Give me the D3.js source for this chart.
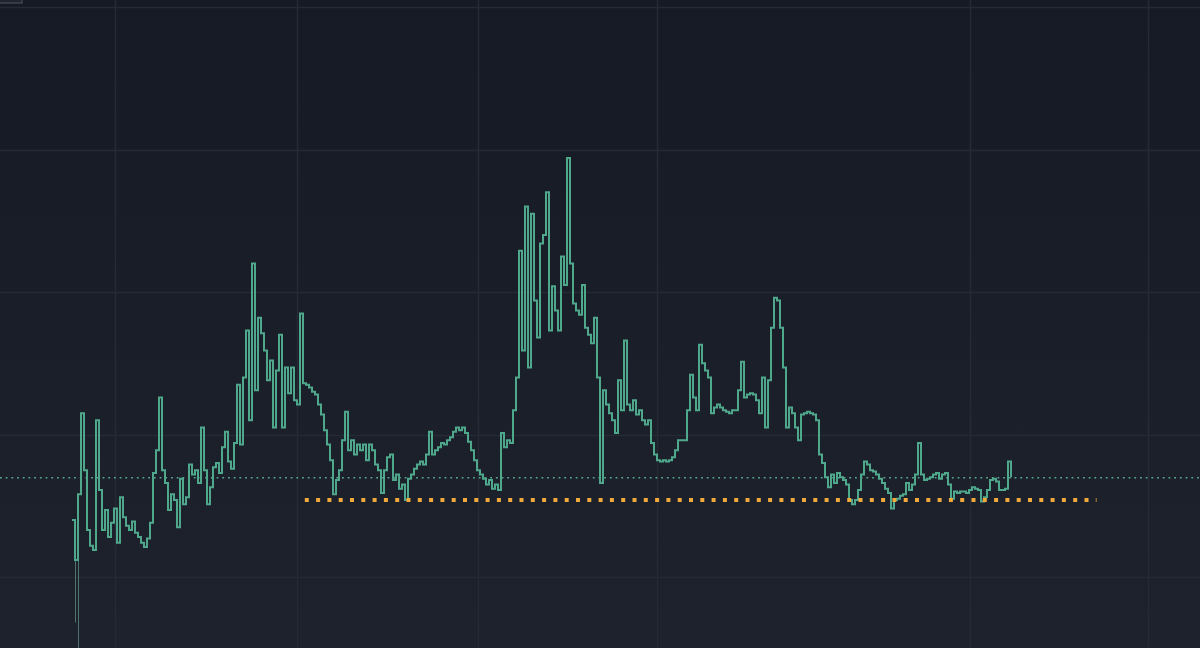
<!DOCTYPE html>
<html>
<head>
<meta charset="utf-8">
<script src="https://cdn.jsdelivr.net/npm/d3@7/dist/d3.min.js"></script>
<style>
html,body{margin:0;padding:0;background:#171b26;overflow:hidden;}
svg{display:block;}
</style>
</head>
<body>
<svg id="chart" width="1200" height="648"></svg>
<script>
// ---- data ----
const prices = [
14.0,11.2,15.8,21.5,17.5,13.3,12.2,11.9,21.0,16.1,
13.3,14.7,12.8,13.8,14.8,12.4,15.6,14.2,13.6,13.3,
13.9,13.1,12.8,12.4,12.1,12.7,13.8,17.3,18.9,22.6,
17.5,16.6,14.7,15.8,15.4,13.5,16.9,15.1,15.6,17.9,
17.2,17.5,16.6,20.5,17.5,15.1,16.3,17.7,18.0,17.3,
19.1,20.2,18.1,17.6,19.4,23.5,19.3,24.0,27.3,21.0,
32.0,23.1,28.2,27.1,25.9,23.8,25.2,20.5,24.5,27.0,
20.5,24.7,22.9,24.7,22.4,22.1,28.5,23.6,23.5,23.3,
23.0,22.8,22.1,21.4,20.3,19.3,18.2,15.8,16.8,17.5,
19.6,21.6,18.9,19.6,18.6,19.3,18.9,19.3,18.2,19.3,
18.9,17.9,17.5,15.9,17.5,18.4,18.6,16.8,17.2,16.2,
16.5,15.4,16.9,17.2,17.6,17.9,18.1,17.9,18.6,20.2,
18.6,18.9,19.1,19.4,19.3,19.6,19.8,20.2,20.5,20.3,
20.5,20.1,19.5,18.9,18.2,17.5,17.2,16.9,16.5,16.8,
16.2,16.5,16.1,20.1,19.1,19.6,19.4,21.7,24.0,32.9,
25.9,36.0,24.7,35.5,29.4,26.8,33.4,34.0,37.0,27.3,
30.4,28.7,27.3,32.5,30.5,39.4,32.0,29.2,28.7,28.4,
30.5,27.5,27.0,26.4,28.2,24.0,16.6,23.1,22.1,21.5,
21.0,20.1,23.8,21.7,26.6,22.1,21.7,22.4,21.4,21.7,
21.0,20.7,21.0,19.4,18.6,18.2,18.1,18.2,18.1,18.2,
18.4,18.9,19.6,19.6,19.6,21.7,24.2,22.6,21.7,26.3,
25.0,24.5,24.0,21.5,21.9,22.1,21.9,21.7,21.6,21.5,
21.7,21.7,23.1,25.1,22.6,22.8,22.9,22.8,22.4,21.5,
24.0,20.5,23.8,27.5,29.6,29.4,27.5,24.7,20.5,21.9,
21.5,20.5,19.6,21.4,21.5,21.6,21.5,21.4,21.0,18.6,
18.0,17.0,16.3,17.2,16.6,17.3,17.0,16.8,16.5,15.4,
15.1,15.4,16.1,17.2,18.1,17.9,17.5,17.4,17.2,16.9,
16.6,16.2,15.9,14.8,15.4,15.5,15.7,15.8,16.6,16.1,
16.5,17.2,19.4,17.2,16.8,16.9,17.0,17.2,17.3,16.9,
17.2,17.3,16.5,15.5,16.0,15.9,16.0,16.0,15.9,16.1,
16.3,16.2,16.1,15.3,15.6,16.1,16.8,16.9,16.7,16.1,
16.1,16.2,18.1,17.0
];
// early thin low prints (bar index, low value)
const earlyLowIdx = [1, 2];
const earlyLows = [6.8, 5.0];
// horizontal price grid levels
const priceTicks = [10, 20, 30, 40, 50];
// time grid positions (bar index)
const timeTicks = [14.33, 75, 135.33, 195, 299.33, 358.67];
// support level (orange dotted)
const supportLevel = 15.4;
const supportFrom = 77.6;
const supportTo = 341.5;

// ---- chart ----
const W = 1200, H = 648;
const svg = d3.select("#chart");
const defs = svg.append("defs");
const grad = defs.append("linearGradient").attr("id","bg").attr("x1",0).attr("y1",0).attr("x2",0).attr("y2",1);
grad.append("stop").attr("offset","0%").attr("stop-color","#161a25");
grad.append("stop").attr("offset","100%").attr("stop-color","#1e222d");
svg.append("rect").attr("width",W).attr("height",H).attr("fill","url(#bg)");

const x = d3.scaleLinear().domain([0, prices.length - 1]).range([72, 1011]);
const y = d3.scaleLinear().domain([10, 50]).range([577, 7]);

// grid
const grid = svg.append("g");
grid.selectAll("line.h").data(priceTicks).join("line")
  .attr("x1",0).attr("x2",W)
  .attr("y1",d=>Math.round(y(d))+0.5).attr("y2",d=>Math.round(y(d))+0.5)
  .attr("stroke","#262a35").attr("stroke-width",1.5);
grid.selectAll("line.v").data(timeTicks).join("line")
  .attr("y1",0).attr("y2",H)
  .attr("x1",d=>Math.round(x(d))+0.5).attr("x2",d=>Math.round(x(d))+0.5)
  .attr("stroke","#262a35").attr("stroke-width",1.5);

// small widget edge top-left
svg.append("rect").attr("x",-2).attr("y",-4).attr("width",24).attr("height",7)
  .attr("fill","#20242f").attr("stroke","#50545f").attr("stroke-width",1);

// current price line (teal dotted)
const last = prices[prices.length-1];
svg.append("line").attr("x1",0).attr("x2",W)
  .attr("y1",y(last)+0.5).attr("y2",y(last)+0.5)
  .attr("stroke","#5fb89c").attr("stroke-width",1.5)
  .attr("stroke-dasharray","1.8,3.9").attr("opacity",0.9);

// early thin lows
svg.selectAll("line.wick").data(earlyLowIdx).join("line")
  .attr("x1",(d)=>x(d)+0.5).attr("x2",(d)=>x(d)+0.5)
  .attr("y1",(d)=>y(prices[d])).attr("y2",(d,i)=>y(earlyLows[i]))
  .attr("stroke","#6fa89a").attr("stroke-width",1).attr("opacity",0.6);

// main step line
const line = d3.line()
  .x((d,i)=>x(i))
  .y(d=>y(d))
  .curve(d3.curveStepAfter);
svg.append("path").datum(prices)
  .attr("d",line)
  .attr("fill","none")
  .attr("stroke","#4fa88c")
  .attr("stroke-width",2)
  .attr("stroke-linejoin","miter");

// support level (orange squares)
svg.append("line")
  .attr("x1",x(supportFrom)).attr("x2",x(supportTo))
  .attr("y1",y(supportLevel)).attr("y2",y(supportLevel))
  .attr("stroke","#f2a93b").attr("stroke-width",4)
  .attr("stroke-dasharray","4,7.3");
</script>
</body>
</html>
